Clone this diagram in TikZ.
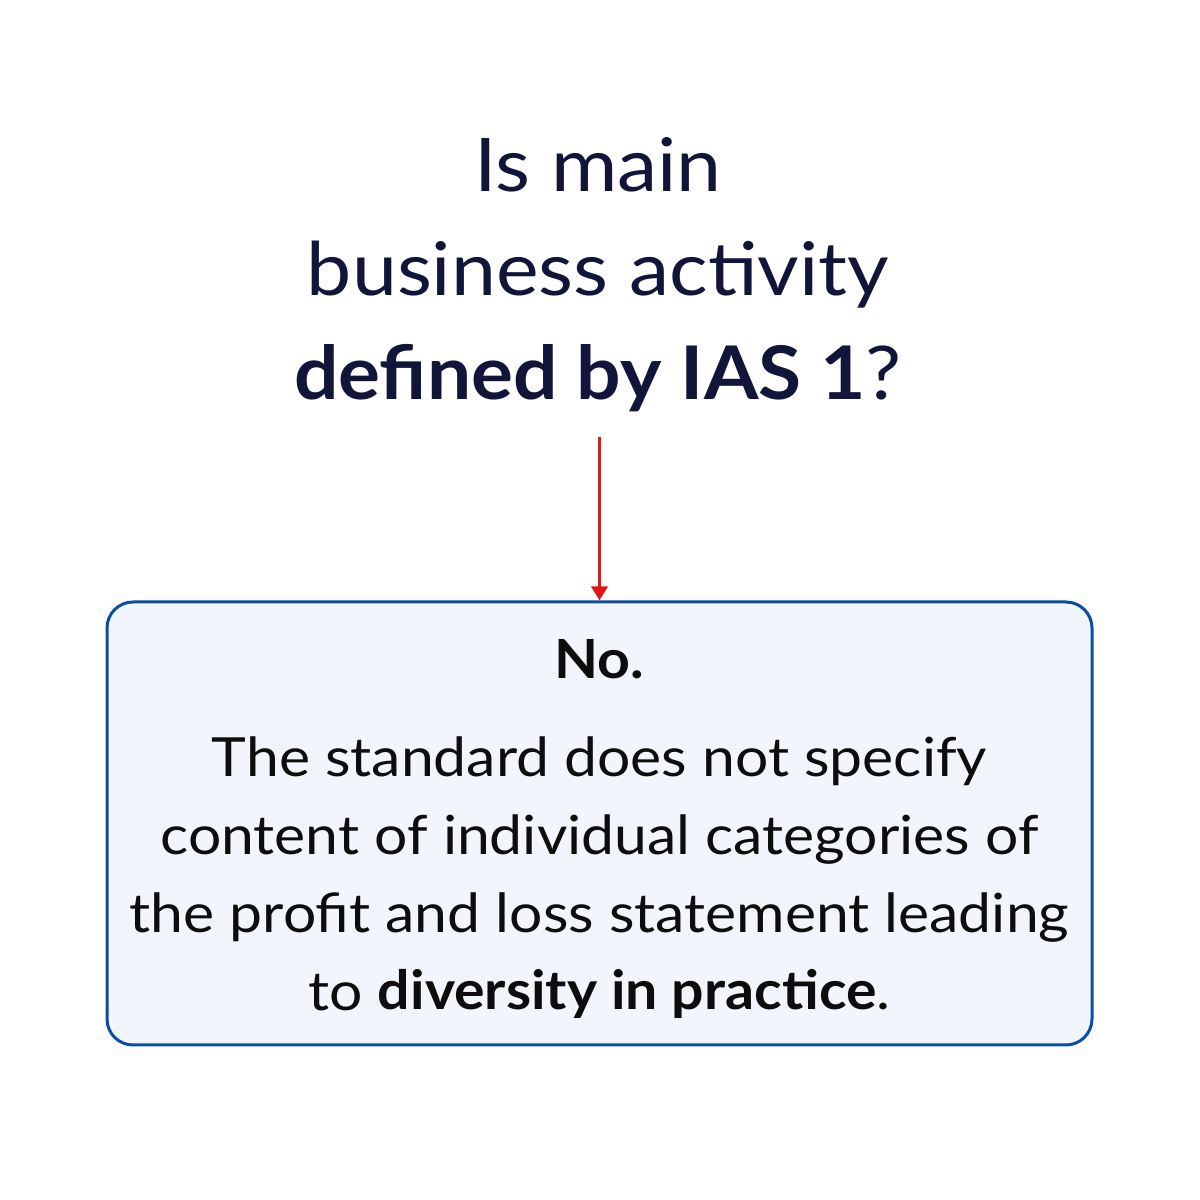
\documentclass[tikz,border=0pt]{standalone}
\usepackage{fontspec}
\setmainfont{Lato}[FakeStretch=1.09, BoldFeatures={FakeStretch=1.06}]
\usetikzlibrary{arrows.meta,positioning}

\begin{document}
\begin{tikzpicture}[x=0.5pt, y=0.5pt, >={Triangle[width=8pt,length=7pt]}]
        % -------- 共用參數 --------
        \definecolor{titlecol}{HTML}{12153A}
        \definecolor{boxline}{HTML}{0B4DA2}
        \definecolor{boxfill}{HTML}{F3F5FC}
        \definecolor{arrowcol}{HTML}{E3151B}
        \tikzset{
          question/.style={align=center, text=titlecol, inner sep=0pt,
            font=\fontsize{37}{52}\selectfont},
          answerbox/.style={draw=boxline, fill=boxfill, line width=1.5pt,
            rounded corners=13pt, minimum width=492.5pt, minimum height=221.5pt},
          answertxt/.style={align=center, inner sep=0pt, text=black!95,
            font=\fontsize{27}{39}\selectfont},
          arrowline/.style={->, arrowcol, line width=1.8pt}
        }
        \useasboundingbox (0,0) rectangle (1200,1200);

        % ======== 問題 ========
        \node[question, anchor=base] (title) at (598,800)
        {Is main\\
        business activity\\
        \textbf{defined by IAS 1}?};

        % ======== 答案框 ========
        \node[answerbox] (answer) at (599.5,376.5) {};
        \node[answertxt, anchor=base] (answertext) at (599.5,190)
        {\textbf{No.}\\[10pt]
        The standard does not specify\\
        content of individual categories of\\
        the profit and loss statement leading\\
        to \textbf{diversity in practice}.};

        % 箭頭
        \coordinate (start) at (answer.north |- 0,763);
        \draw[arrowline] (start) -- (answer.north);
\end{tikzpicture}
\end{document}
